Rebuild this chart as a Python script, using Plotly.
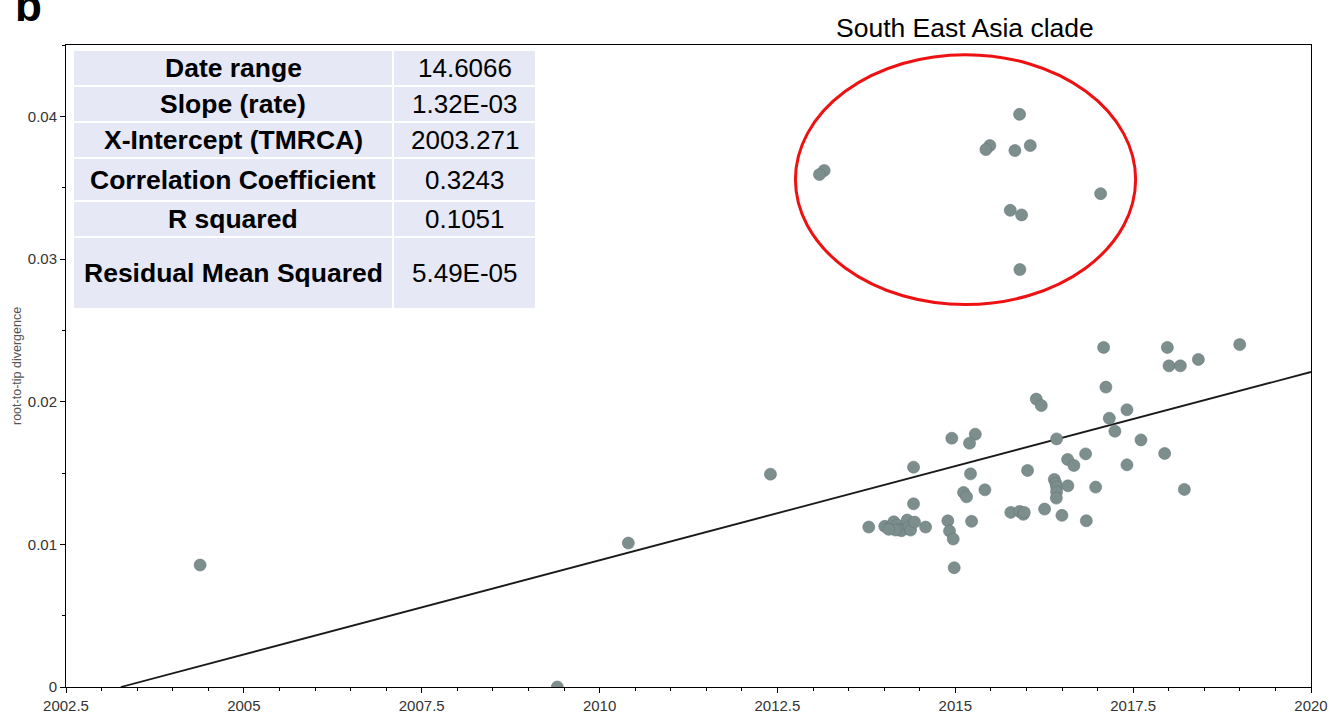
import plotly.graph_objects as go

# ---------------- data ----------------
sea_x = [2015.904, 2015.486, 2015.430, 2015.838, 2016.054, 2013.157, 2013.091,
         2017.043, 2015.773, 2015.932, 2015.908]
sea_y = [0.04014, 0.03795, 0.03767, 0.03760, 0.03795, 0.03620, 0.03592,
         0.03458, 0.03341, 0.03309, 0.02926]

other_x = [2017.085, 2017.981, 2018.004, 2018.164, 2018.417, 2018.998, 2017.117,
           2016.138, 2016.209, 2017.413, 2017.165, 2017.244, 2014.951, 2015.281,
           2015.200, 2016.424, 2017.610, 2014.413, 2017.943, 2016.832, 2016.579,
           2016.667, 2017.413, 2016.016, 2015.214, 2016.392, 2016.414, 2016.424,
           2016.424, 2016.420, 2016.583, 2016.973, 2018.220, 2015.116, 2015.158,
           2015.416, 2014.413, 2015.781, 2015.904, 2015.956, 2015.970, 2016.255,
           2016.499, 2016.842, 2015.229, 2014.895, 2014.919, 2014.971, 2014.985,
           2013.784, 2014.582, 2014.009, 2014.089, 2014.136, 2014.184, 2014.206,
           2014.244, 2014.324, 2014.347, 2014.371, 2014.427, 2014.160, 2014.065,
           2004.385, 2009.406, 2010.404, 2012.402]
other_y = [0.02380, 0.02380, 0.02251, 0.02251, 0.02296, 0.02400, 0.02102,
           0.02018, 0.01973, 0.01943, 0.01884, 0.01793, 0.01744, 0.01772,
           0.01709, 0.01739, 0.01732, 0.01541, 0.01637, 0.01634, 0.01595,
           0.01553, 0.01557, 0.01518, 0.01494, 0.01455, 0.01427, 0.01403,
           0.01368, 0.01324, 0.01410, 0.01401, 0.01385, 0.01364, 0.01333,
           0.01382, 0.01284, 0.01224, 0.01231, 0.01210, 0.01224, 0.01247,
           0.01203, 0.01165, 0.01161, 0.01165, 0.01093, 0.01037, 0.00836,
           0.01121, 0.01121, 0.01126, 0.01119, 0.01158, 0.01135, 0.01105,
           0.01095, 0.01170, 0.01123, 0.01100, 0.01156, 0.01100, 0.01105,
           0.00855, 0.00000, 0.01009, 0.01492]

slope = 1.32e-03
x_intercept = 2003.271
x_end = 2020.0

table_labels = ["Date range", "Slope (rate)", "X-Intercept (TMRCA)",
                "Correlation Coefficient", "R squared", "Residual Mean Squared"]
table_values = ["14.6066", "1.32E-03", "2003.271", "0.3243", "0.1051", "5.49E-05"]

x_tickvals = [2002.5, 2005, 2007.5, 2010, 2012.5, 2015, 2017.5, 2020]
x_ticktext = ["2002.5", "2005", "2007.5", "2010", "2012.5", "2015", "2017.5", "2020"]
y_tickvals = [0, 0.01, 0.02, 0.03, 0.04]
y_ticktext = ["0", "0.01", "0.02", "0.03", "0.04"]

# ---------------- layout geometry ----------------
W, H = 1330, 715
ML, MR, MT, MB = 66, 19, 45, 28
PW, PH = W - ML - MR, H - MT - MB


def px(xp):
    return (xp - ML) / PW


def py(yp):
    return (H - MB - yp) / PH


pts_x = sea_x + other_x
pts_y = sea_y + other_y

fig = go.Figure()

line_x = [x_intercept, x_end]
line_y = [slope * (v - x_intercept) for v in line_x]
fig.add_trace(go.Scatter(x=line_x, y=line_y, mode="lines",
                         line=dict(color="#1a1a1a", width=1.8),
                         showlegend=False, hoverinfo="skip"))

fig.add_trace(go.Scatter(x=pts_x, y=pts_y, mode="markers",
                         marker=dict(size=12, color="#7d8f8c",
                                     line=dict(color="#66767a", width=0.6)),
                         showlegend=False, cliponaxis=True))

shapes = []
annotations = []

# table
row_edges = [50, 86, 122, 158, 201, 237, 309]
col_edges = [73, 393, 536]
cell_fill = "#e6e8f5"
for i in range(len(table_labels)):
    y0, y1 = row_edges[i], row_edges[i + 1]
    for j in range(2):
        shapes.append(dict(type="rect", xref="paper", yref="paper",
                           x0=px(col_edges[j]), x1=px(col_edges[j + 1]),
                           y0=py(y1), y1=py(y0),
                           fillcolor=cell_fill,
                           line=dict(color="white", width=2), layer="above"))
    yc = py((y0 + y1) / 2)
    annotations.append(dict(xref="paper", yref="paper",
                            x=px((col_edges[0] + col_edges[1]) / 2), y=yc,
                            text="<b>" + table_labels[i] + "</b>", showarrow=False,
                            font=dict(family="Liberation Sans", size=26.5, color="black"),
                            xanchor="center", yanchor="middle"))
    annotations.append(dict(xref="paper", yref="paper",
                            x=px((col_edges[1] + col_edges[2]) / 2), y=yc,
                            text=table_values[i], showarrow=False,
                            font=dict(family="Liberation Sans", size=26, color="black"),
                            xanchor="center", yanchor="middle"))

# red ellipse around SE Asia clade
shapes.append(dict(type="circle", xref="x", yref="y",
                   x0=2012.753, x1=2017.535, y0=0.02681, y1=0.04432,
                   line=dict(color="#ee1111", width=3)))

# title
annotations.append(dict(xref="paper", yref="paper", x=px(965), y=py(28),
                        text="South East Asia clade", showarrow=False,
                        font=dict(family="Liberation Sans", size=26.5, color="black"),
                        xanchor="center", yanchor="middle"))
# panel letter
annotations.append(dict(xref="paper", yref="paper", x=px(28), y=py(32),
                        text="<b>b</b>", showarrow=False,
                        font=dict(family="Liberation Sans", size=44, color="black"),
                        xanchor="center", yanchor="bottom"))
# y-axis title
annotations.append(dict(xref="paper", yref="paper", x=px(17), y=py(366),
                        text="root-to-tip divergence", showarrow=False, textangle=-90,
                        font=dict(family="Liberation Sans", size=12.5, color="#555555"),
                        xanchor="center", yanchor="middle"))

tickfont = dict(family="Liberation Sans", size=15, color="#333333")
fig.update_layout(
    width=W, height=H,
    margin=dict(l=ML, r=MR, t=MT, b=MB, pad=0, autoexpand=False),
    paper_bgcolor="white", plot_bgcolor="white",
    shapes=shapes, annotations=annotations,
    xaxis=dict(range=[2002.5, 2020], tickmode="array", tickvals=x_tickvals,
               ticktext=x_ticktext, ticks="outside", ticklen=5, tickcolor="black",
               showline=True, linecolor="black", linewidth=1, mirror=True,
               showgrid=False, zeroline=False, tickfont=tickfont, automargin=False,
               minor=dict(tickmode="linear", tick0=2002.5, dtick=0.5, ticks="outside",
                          ticklen=3, tickcolor="black", showgrid=False)),
    yaxis=dict(range=[0, 0.045], tickmode="array", tickvals=y_tickvals,
               ticktext=y_ticktext, ticks="outside", ticklen=5, tickcolor="black",
               showline=True, linecolor="black", linewidth=1, mirror=True,
               showgrid=False, zeroline=False, tickfont=tickfont, automargin=False,
               minor=dict(tickmode="linear", tick0=0, dtick=0.005, ticks="outside",
                          ticklen=3, tickcolor="black", showgrid=False)),
)

fig.write_html("out.html")
